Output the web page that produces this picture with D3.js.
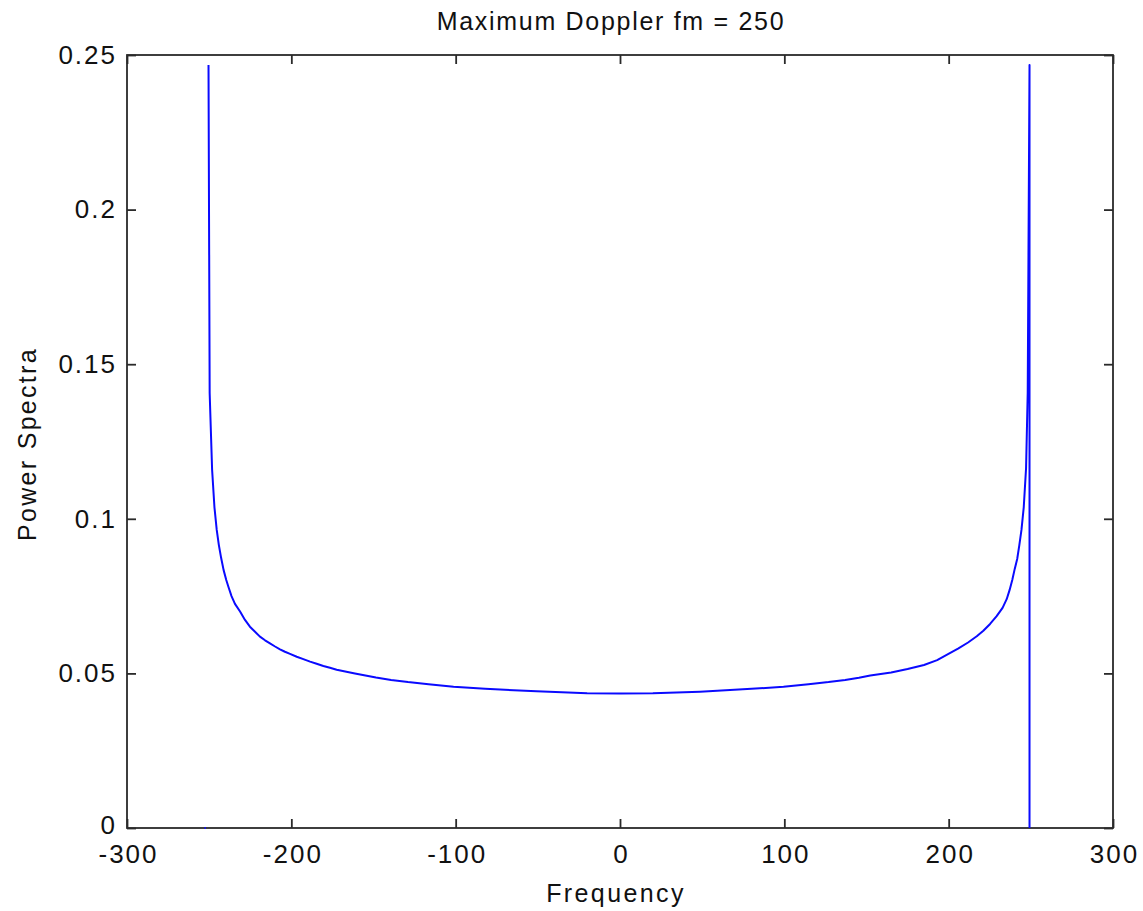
<!DOCTYPE html>
<html>
<head>
<meta charset="utf-8">
<script src="https://cdn.jsdelivr.net/npm/d3@7/dist/d3.min.js"></script>
<style>
  html, body { margin: 0; padding: 0; background: #ffffff; }
  svg { display: block; }
  text { font-family: "Liberation Sans", Arial, sans-serif; fill: #111; }
</style>
</head>
<body>
<svg id="chart" width="1143" height="911"></svg>
<script>
// ---- data ----
const titleText = "Maximum Doppler fm = 250";
const xLabel = "Frequency";
const yLabel = "Power Spectra";
const xTicks = [-300, -200, -100, 0, 100, 200, 300];
const yTicks = [0, 0.05, 0.1, 0.15, 0.2, 0.25];
const xDomain = [-300, 300];
const yDomain = [0, 0.25];

const freq = [-252.8, -252.0, -251.3,
  -250.4, -249.7, -248.2, -246.8, -245.4, -244.1, -242.7, -241.2, -239.6, -238.1, -236.4,
  -234.3, -231.2, -228.2, -225.2, -222.1, -219.1, -216.0, -213.0, -209.9, -206.9, -203.9,
  -200.8, -196.7, -192.7, -188.6, -184.6, -180.5, -176.5, -172.4, -161.3, -148.5, -139.3,
  -129.0, -116.5, -101.3, -82.1, -50.8, -20, 0, 20, 48.7, 80.0, 99.5, 114.7, 126.9, 137.0,
  145.4, 152.3, 165, 175, 185, 193, 199.6, 205.7, 211.8, 217.1, 221.1, 225.2, 229.2, 232.8,
  235.3, 237.1, 238.7, 240.2, 241.7, 243.0, 244.3, 245.7, 247.1, 248.1, 249.2, 249.2];

const power = [0, 0, null,
  0.2468, 0.1407, 0.1158, 0.1038, 0.0964, 0.0915, 0.0873, 0.0834, 0.0802, 0.0777, 0.0750,
  0.0725, 0.0700, 0.0673, 0.0651, 0.0635, 0.0619, 0.0607, 0.0597, 0.0587, 0.0578, 0.0570,
  0.0563, 0.0554, 0.0546, 0.0538, 0.0531, 0.0524, 0.0518, 0.0512, 0.0500, 0.0487, 0.0479,
  0.0472, 0.0465, 0.0457, 0.0450, 0.0442, 0.0436, 0.0435, 0.0436, 0.0441, 0.0450, 0.0457,
  0.0465, 0.0472, 0.0479, 0.0486, 0.0493, 0.0503, 0.0514, 0.0527, 0.0543, 0.0562, 0.0580,
  0.0600, 0.0620, 0.0638, 0.0660, 0.0685, 0.0712, 0.0740, 0.0770, 0.0802, 0.0838, 0.0870,
  0.0915, 0.0964, 0.1038, 0.1164, 0.1407, 0.2468, 0];

// ---- layout ----
const plotLeft = 127, plotRight = 1113, plotTop = 55, plotBottom = 828;
const tickLen = 9;
const axisColor = "#2a2a2a";

const svg = d3.select("#chart");
const x = d3.scaleLinear().domain(xDomain).range([plotLeft, plotRight]);
const y = d3.scaleLinear().domain(yDomain).range([plotBottom, plotTop]);

const fmt = d => String(+d.toFixed(2));

const gB = svg.append("g").attr("transform", `translate(0,${plotBottom})`)
  .call(d3.axisBottom(x).tickValues(xTicks).tickSizeInner(-tickLen).tickSizeOuter(0).tickPadding(17).tickFormat(fmt));
const gT = svg.append("g").attr("transform", `translate(0,${plotTop})`)
  .call(d3.axisTop(x).tickValues(xTicks).tickSizeInner(-tickLen).tickSizeOuter(0).tickFormat(""));
const gL = svg.append("g").attr("transform", `translate(${plotLeft},0)`)
  .call(d3.axisLeft(y).tickValues(yTicks).tickSizeInner(-tickLen).tickSizeOuter(0).tickPadding(12).tickFormat(fmt));
const gR = svg.append("g").attr("transform", `translate(${plotRight},0)`)
  .call(d3.axisRight(y).tickValues(yTicks).tickSizeInner(-tickLen).tickSizeOuter(0).tickFormat(""));

[gB, gT, gL, gR].forEach(g => {
  g.select(".domain").remove();
  g.selectAll(".tick line").attr("stroke", axisColor).attr("stroke-width", 1.8);
  g.selectAll(".tick text").attr("font-size", 26).attr("fill", "#111")
    .attr("letter-spacing", "2px")
    .attr("font-family", "'Liberation Sans', Arial, sans-serif");
});
gB.selectAll(".tick text").attr("dy", "0.71em").attr("dx", "1px");
gL.selectAll(".tick text").attr("dx", "2px");
// lift the bottom-most y label a touch so it clears the first x label
gL.selectAll(".tick text").filter(d => d === 0).attr("dy", "0.22em");

svg.append("rect")
  .attr("x", plotLeft).attr("y", plotTop)
  .attr("width", plotRight - plotLeft).attr("height", plotBottom - plotTop)
  .attr("fill", "none").attr("stroke", axisColor).attr("stroke-width", 1.8);

const pts = freq.map((f, i) => ({ f, p: power[i] }));
const line = d3.line()
  .defined(d => d.p !== null)
  .x(d => x(d.f)).y(d => y(d.p));
svg.append("path")
  .datum(pts)
  .attr("d", line)
  .attr("fill", "none")
  .attr("stroke", "#0a0aff")
  .attr("stroke-width", 2)
  .attr("stroke-linejoin", "round");

svg.append("text")
  .attr("x", 611).attr("y", 30)
  .attr("text-anchor", "middle")
  .attr("font-size", 25)
  .attr("letter-spacing", "1.7px")
  .text(titleText);

svg.append("text")
  .attr("x", 616).attr("y", 902)
  .attr("text-anchor", "middle")
  .attr("font-size", 25)
  .attr("letter-spacing", "2.4px")
  .text(xLabel);

svg.append("text")
  .attr("transform", `translate(36,444) rotate(-90)`)
  .attr("text-anchor", "middle")
  .attr("font-size", 25)
  .attr("letter-spacing", "2.3px")
  .text(yLabel);
</script>
</body>
</html>
